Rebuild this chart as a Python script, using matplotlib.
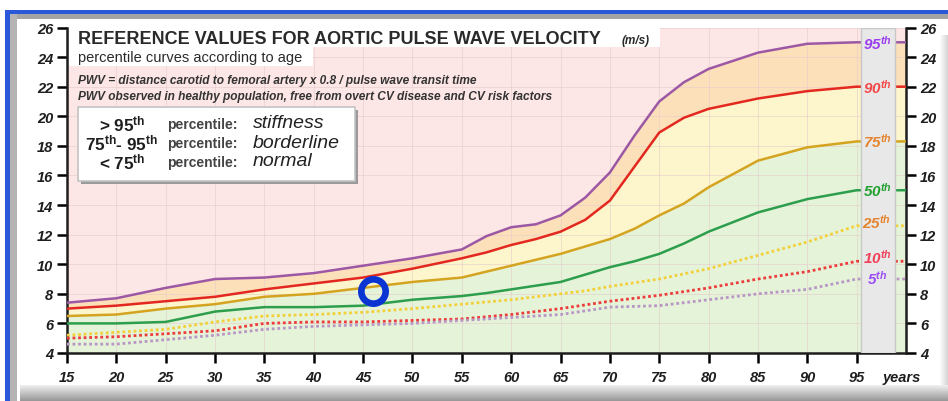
import numpy as np
import matplotlib
matplotlib.use('Agg')
import matplotlib.pyplot as plt
from matplotlib.patches import Rectangle

plt.rcParams['font.family'] = ['Liberation Sans', 'DejaVu Sans']
plt.rcParams['mathtext.fontset'] = 'custom'
plt.rcParams['mathtext.rm'] = 'Liberation Sans:bold'
plt.rcParams['mathtext.it'] = 'Liberation Sans:italic:bold'
plt.rcParams['mathtext.bf'] = 'Liberation Sans:bold'

# data (PWV in m/s by age)
ages = [15, 20, 25, 30, 35, 40, 45, 50, 55, 57.5, 60, 62.5, 65, 67.5, 70, 72.5, 75, 77.5, 80, 85, 90, 95]
p95 = [7.4, 7.7, 8.4, 9.0, 9.1, 9.4, 9.9, 10.4, 11.0, 11.9, 12.5, 12.7, 13.3, 14.5, 16.2, 18.7, 21.0, 22.3, 23.2, 24.3, 24.9, 25.0]
p90 = [7.0, 7.2, 7.5, 7.8, 8.3, 8.7, 9.1, 9.7, 10.4, 10.8, 11.3, 11.7, 12.2, 13.0, 14.3, 16.6, 18.9, 19.9, 20.5, 21.2, 21.7, 22.0]
p75 = [6.5, 6.6, 7.0, 7.3, 7.8, 8.0, 8.4, 8.8, 9.1, 9.5, 9.9, 10.3, 10.7, 11.2, 11.7, 12.4, 13.3, 14.1, 15.2, 17.0, 17.9, 18.3]
p50 = [6.0, 6.0, 6.1, 6.8, 7.1, 7.1, 7.2, 7.6, 7.85, 8.05, 8.3, 8.55, 8.8, 9.3, 9.8, 10.2, 10.7, 11.4, 12.2, 13.5, 14.4, 15.0]
p25 = [5.2, 5.4, 5.6, 6.1, 6.5, 6.6, 6.75, 7.0, 7.3, 7.45, 7.6, 7.8, 8.0, 8.2, 8.5, 8.75, 9.0, 9.35, 9.7, 10.6, 11.5, 12.6]
p10 = [5.0, 5.1, 5.3, 5.5, 6.0, 6.1, 6.1, 6.2, 6.3, 6.45, 6.6, 6.8, 7.0, 7.25, 7.5, 7.7, 7.9, 8.15, 8.4, 9.0, 9.5, 10.2]
p5 = [4.6, 4.6, 4.9, 5.2, 5.6, 5.8, 5.9, 6.0, 6.2, 6.3, 6.4, 6.5, 6.6, 6.85, 7.1, 7.15, 7.2, 7.4, 7.6, 8.0, 8.3, 9.0]

pct_labels = ['95', '90', '75', '50', '25', '10', '5']
label_colors = ['#9a3cf0', '#f24848', '#e5832c', '#22a02e', '#e5832c', '#f2405a', '#9a4cf5']
line_colors = ['#9c58a4', '#e3281f', '#d4a420', '#2c9e4c', '#f3d03a', '#ec3c3c', '#b897c6']
dotted = [False, False, False, False, True, True, True]

ring_age = [46.0]
ring_pwv = [8.2]

xticks = list(range(15, 100, 5))
yticks = list(range(4, 27, 2))

W, H = 948, 402
fig = plt.figure(figsize=(W / 100, H / 100), dpi=100)
fig.patch.set_facecolor('white')


def rect(x0, y0, x1, y1, **kw):
    # pixel box (from top-left) -> figure rectangle
    r = Rectangle((x0 / W, 1 - y1 / H), (x1 - x0) / W, (y1 - y0) / H,
                  transform=fig.transFigure, **kw)
    fig.add_artist(r)
    return r


def ftext(x, y, s, **kw):
    fig.text(x / W, 1 - y / H, s, **kw)


# window frame
rect(5, 11, 948, 15, color='#2a58d8', lw=0, zorder=0)
rect(5, 11, 10, 402, color='#2a58d8', lw=0, zorder=0)
rect(10, 15, 948, 20, color='#a4a4a4', lw=0, zorder=0)
rect(10, 15, 17, 402, color='#b4b4b4', lw=0, zorder=0)
for i in range(16):
    g = 0.93 - i * 0.022
    rect(20, 386 + i, 948, 387 + i, color=(g, g, g), lw=0, zorder=0)
for i in range(8):
    g = 0.98 - i * 0.02
    rect(940 + i, 36, 941 + i, 386, color=(g, g, g), lw=0, zorder=0)

ax = fig.add_axes([67 / W, 1 - 354 / H, (906 - 67) / W, (354 - 28.5) / H])

xa = ages + [100]
curves = [c + [c[-1]] for c in (p95, p90, p75, p50, p25, p10, p5)]

ax.fill_between(xa, curves[0], 26, color='#fde6e6', lw=0)
ax.fill_between(xa, curves[1], curves[0], color='#fce0b9', lw=0)
ax.fill_between(xa, curves[2], curves[1], color='#fdf6cd', lw=0)
ax.fill_between(xa, 4, curves[2], color='#e5f3d8', lw=0)

for c, col, dot in zip(curves, line_colors, dotted):
    if dot:
        ax.plot(xa, c, color=col, lw=2.0, ls=(0, (1, 1)), zorder=3)
    else:
        ax.plot(xa, c, color=col, lw=1.8, zorder=3)

# grey label strip
ax.axvspan(95.4, 98.9, facecolor='#e8e8e8', edgecolor='#c8c8c8', lw=1, zorder=4)
offs = [0, 0, 0.05, 0, 0.25, 0.3, 0.1]
for lab, col, c, o in zip(pct_labels, label_colors, curves, offs):
    ax.text(97.05, c[-1] + o, lab + '$^{th}$', ha='center', va='center',
            color=col, fontsize=11, fontstyle='italic', fontweight='bold', zorder=6)

ax.plot(ring_age, ring_pwv, 'o', ms=17.5, mfc='none', mec='#0a35d2', mew=4.8, zorder=7)

ax.set_xlim(15, 100)
ax.set_ylim(4, 26)
ax.set_xticks(xticks)
ax.set_yticks(yticks)
ax.set_axisbelow('line')
ax.grid(True, color='#e6cccc', lw=0.7, alpha=0.6)
ax.spines['top'].set_visible(False)
for s in ('left', 'right', 'bottom'):
    ax.spines[s].set_linewidth(1.8)
    ax.spines[s].set_color('#1e1e1e')
ax.yaxis.set_ticks_position('both')
ax.tick_params(axis='y', which='both', direction='out', length=7, width=1.8,
               labelright=True, pad=3, labelsize=10.5)
ax.tick_params(axis='x', direction='out', length=7, width=1.8, pad=5, labelsize=10.5)
for lbl in ax.get_xticklabels() + ax.get_yticklabels():
    lbl.set_fontstyle('italic')
    lbl.set_fontweight('bold')
    lbl.set_color('#1e1e1e')

ftext(883, 378, 'years', fontsize=10.5, fontstyle='italic', fontweight='bold',
      color='#1e1e1e', va='center')

# title blocks
rect(69, 29, 660, 48, color='white', lw=0, zorder=2)
rect(69, 48, 313, 67, color='white', lw=0, zorder=2)
ftext(78, 40, 'REFERENCE VALUES FOR AORTIC PULSE WAVE VELOCITY', fontsize=13,
      fontweight='bold', color='#2a2a2a', va='center', zorder=3)
ftext(622, 41, '(m/s)', fontsize=8.5, fontweight='bold', fontstyle='italic',
      color='#2a2a2a', va='center', zorder=3)
ftext(78, 58, 'percentile curves according to age', fontsize=10.5,
      color='#2a2a2a', va='center', zorder=3)
ftext(78, 81, 'PWV = distance carotid to femoral artery x 0.8 / pulse wave transit time',
      fontsize=8.6, fontweight='bold', fontstyle='italic', color='#333333', va='center', zorder=3)
ftext(78, 97, 'PWV observed in healthy population, free from overt CV disease and CV risk factors',
      fontsize=8.6, fontweight='bold', fontstyle='italic', color='#333333', va='center', zorder=3)

# legend box
rect(81, 111, 358, 185, color='#9a9a9a', lw=0, zorder=2)
rect(78, 108, 355, 182, facecolor='white', edgecolor='#c4c4c4', lw=1.2, zorder=2)
rows = [('> 95$^{\\rm th}$', 'stiffness', 124),
        ('75$^{\\rm th}$- 95$^{\\rm th}$', 'borderline', 143),
        ('< 75$^{\\rm th}$', 'normal', 162)]
for left, right, y in rows:
    ftext(122, y, left, fontsize=12.3, fontweight='bold', color='#1e1e1e',
          ha='center', va='center', zorder=3)
    ftext(167, y + 1, 'percentile:', fontsize=10, fontweight='bold', color='#444444',
          va='center', zorder=3)
    ftext(253, y, right, fontsize=14, fontstyle='italic', color='#222222',
          va='center', zorder=3)

fig.savefig('out.png', dpi=100)
